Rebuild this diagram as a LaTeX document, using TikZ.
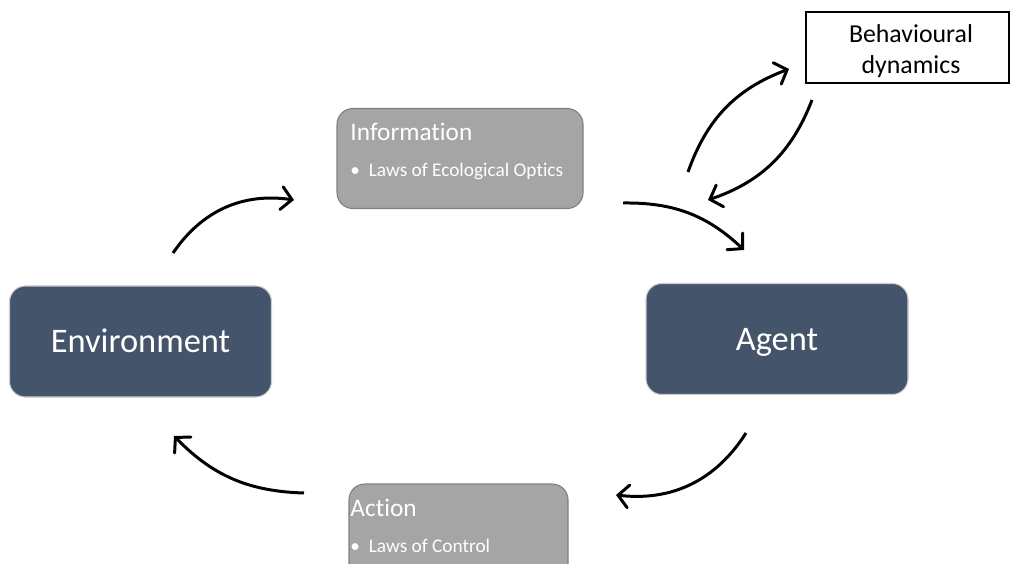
\documentclass[tikz,border=0pt]{standalone}
\usepackage{fontspec}
\setmainfont{Carlito}[Ligatures=NoCommon]
\usetikzlibrary{arrows.meta}
\usetikzlibrary{positioning}

\definecolor{slate}{HTML}{44546A}
\definecolor{boxgray}{HTML}{A5A5A5}
\definecolor{edgegray}{HTML}{7F7F7F}

\begin{document}
\begin{tikzpicture}[x=0.02cm,y=-0.02cm,
			-{Straight Barb[length=6pt,width=13pt,line cap=round]},line width=1.7pt,auto]
			\tikzstyle{main}=[draw=black!20,line width=0.6pt,fill=slate,rounded corners=9pt,
			minimum width=262*0.02cm,minimum height=111*0.02cm,text=white,
			text height=12.6pt,text depth=0pt,font=\fontsize{19.6}{22}\selectfont]
			\tikzstyle{step box}=[draw=edgegray,line width=0.6pt,fill=boxgray,rounded corners=9pt,
			minimum width=246*0.02cm,minimum height=100*0.02cm]
			\tikzstyle{title}=[anchor=north west,text=white,inner sep=0pt,font=\fontsize{14.4}{16}\selectfont]
			\tikzstyle{item}=[anchor=north west,text=white,inner sep=0pt,font=\fontsize{11}{13}\selectfont]
			
			\useasboundingbox (0,0) rectangle (1011,564);
			
			\node[main]          (env)   at (140.5,341.5) {Environment};
			\node[main]          (agent) at (777,339)   {Agent};
			\node[step box]      (info)  at (460,158.5) {};
			\node[step box,minimum width=219*0.02cm] (act) at (458.5,534) {};
			\node[draw=black,line width=1.2pt,fill=white,minimum width=203*0.02cm,
			minimum height=71*0.02cm] (dyn) at (907.5,47.5) {};
			\node[align=center,inner sep=0pt,font=\fontsize{14.7}{18}\selectfont]
			(dyn_t) at (911,51) {Behavioural\\dynamics};
			
			\node[title] (info_t) at (349,122) {Information};
			\node[item]  (info_b) [below=11pt of info_t.south west,anchor=north west] {\textbullet\ \ Laws of Ecological Optics};
			\node[title] (act_t)  at (349,498) {Action};
			\node[item]  (act_b)  [below=11pt of act_t.south west,anchor=north west] {\textbullet\ \ Laws of Control};
			
			% free ends of the loop arrows
			\coordinate (e_out) at (173,253);
			\coordinate (i_in)  at (294,200);
			\coordinate (i_out) at (623,203);
			\coordinate (a_in)  at (744,250);
			\coordinate (a_out) at (746,433);
			\coordinate (c_in)  at (616,495);
			\coordinate (c_out) at (304,493);
			\coordinate (e_in)  at (174,436);
			\coordinate (up_a)  at (688,172);
			\coordinate (up_b)  at (789,69);
			\coordinate (dn_a)  at (812,100);
			\coordinate (dn_b)  at (708,200);
			
			\path (e_out) edge [bend left=32] (i_in)
			(i_out) edge [bend left=22] (a_in)
			(a_out) edge [bend left=32] (c_in)
			(c_out) edge [bend left=22] (e_in)
			(up_a)  edge [bend left=25] (up_b)
			(dn_a)  edge [bend left=25] (dn_b);
\end{tikzpicture}
\end{document}
